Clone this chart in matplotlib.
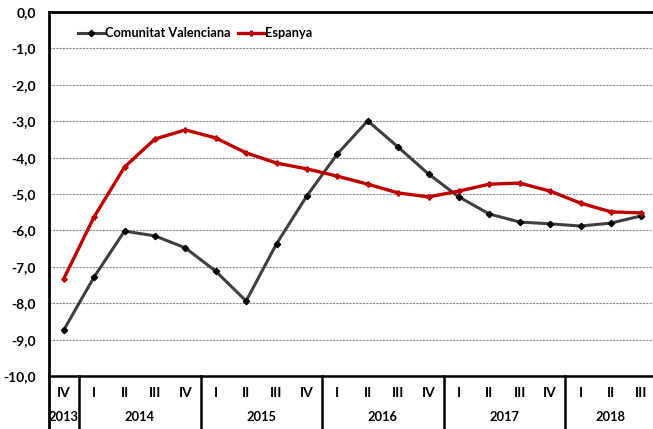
import matplotlib
matplotlib.use('Agg')
import matplotlib.pyplot as plt
from matplotlib.transforms import blended_transform_factory

plt.rcParams['font.family'] = ['Lato', 'DejaVu Sans']
plt.rcParams['font.weight'] = 'bold'

quarters = ['IV', 'I', 'II', 'III', 'IV', 'I', 'II', 'III', 'IV', 'I', 'II', 'III', 'IV',
            'I', 'II', 'III', 'IV', 'I', 'II', 'III']
years = ['2013', '2014', '2015', '2016', '2017', '2018']
year_spans = [(0, 0), (1, 4), (5, 8), (9, 12), (13, 16), (17, 19)]

valenciana = [-8.74, -7.28, -6.02, -6.15, -6.48, -7.12, -7.94, -6.37, -5.05, -3.90,
              -2.99, -3.71, -4.45, -5.08, -5.55, -5.77, -5.82, -5.88, -5.80, -5.60]
espanya = [-7.33, -5.63, -4.26, -3.49, -3.24, -3.46, -3.87, -4.15, -4.31, -4.51,
           -4.73, -4.97, -5.08, -4.92, -4.73, -4.70, -4.92, -5.25, -5.49, -5.52]

FS = 10

fig = plt.figure(figsize=(6.53, 4.29), dpi=100)
ax = fig.add_axes([48.5 / 653, 53 / 429, 608 / 653, 364 / 429])

x = list(range(len(quarters)))
ax.plot(x, valenciana, color='#404040', lw=2.2, marker='D', ms=3.2,
        mfc='black', mec='black', label='Comunitat Valenciana')
ax.plot(x, espanya, color='#C00000', lw=2.4, marker='P', ms=3.5,
        mfc='#C00000', mec='#C00000', label='Espanya')

ax.set_xlim(-0.5, len(quarters) - 0.5)
ax.set_ylim(-10, 0)
ax.set_yticks(range(-10, 1))
ax.set_yticklabels([f'{v},0' for v in range(-10, 1)], fontsize=FS, fontweight='bold')
ax.yaxis.grid(True, color='#8c8c8c', ls=(0, (2, 1)), lw=0.8)
ax.set_axisbelow(True)
ax.tick_params(axis='y', length=0, pad=9)
ax.tick_params(axis='x', length=0, labelbottom=False)

for side in ['left', 'top']:
    ax.spines[side].set_linewidth(2)
ax.spines['bottom'].set_linewidth(1.8)
ax.spines['right'].set_visible(False)

# category table under the axis
tr = blended_transform_factory(ax.transData, ax.transAxes)
for i, q in enumerate(quarters):
    ax.text(i, -0.047, q, transform=tr, ha='center', va='center', fontsize=FS, fontweight='bold')
for yr, (a, b) in zip(years, year_spans):
    ax.text((a + b) / 2, -0.113, yr, transform=tr, ha='center', va='center',
            fontsize=9.3, fontweight='bold')
for a, b in year_spans[1:]:
    ax.plot([a - 0.5, a - 0.5], [0, -0.15], transform=tr, color='black', lw=1.8, clip_on=False)
ax.plot([-0.5, -0.5], [0, -0.15], transform=tr, color='black', lw=2, clip_on=False)

ax.legend(loc='upper left', bbox_to_anchor=(0.03, 0.99), ncol=2, frameon=False,
          handlelength=2.0, handletextpad=0.1, columnspacing=0.6,
          prop={'weight': 'bold', 'size': 9.2})

fig.savefig('out.png', dpi=100)
